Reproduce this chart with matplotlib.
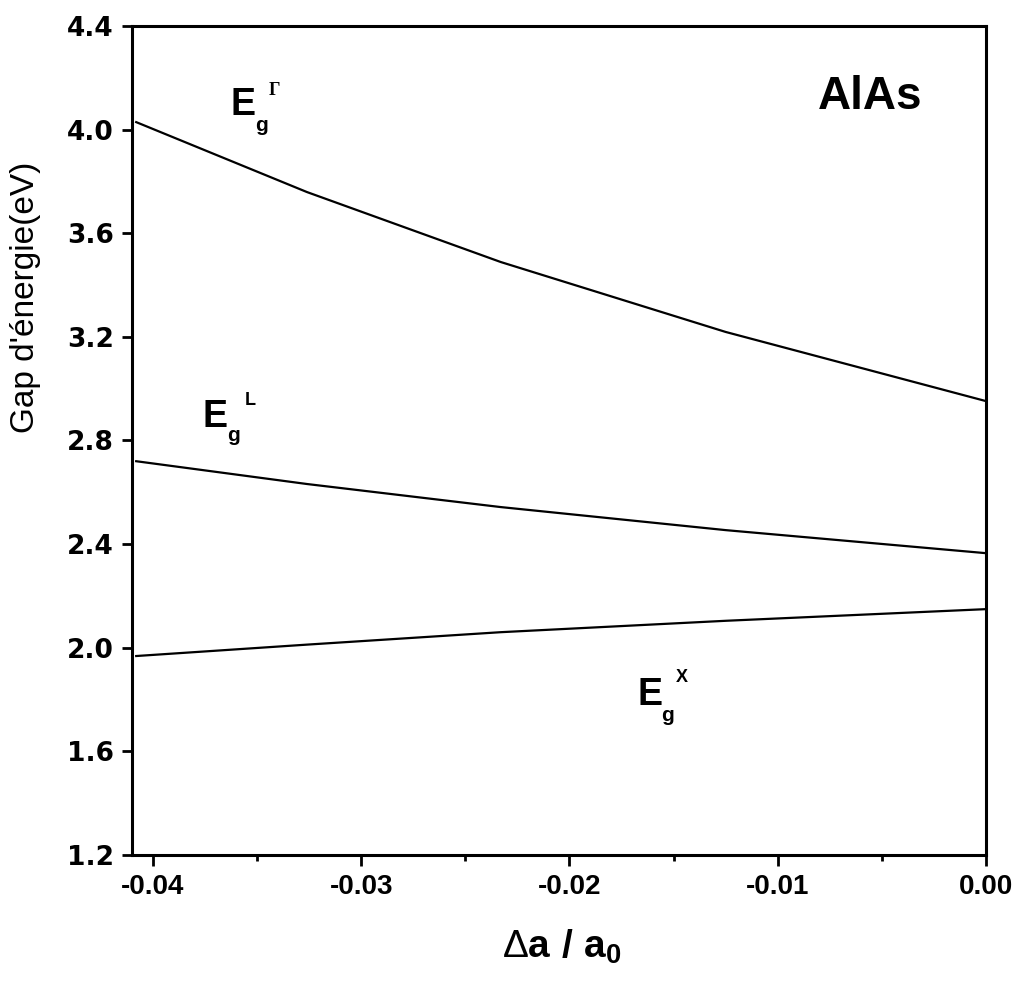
import matplotlib
matplotlib.use("Agg")
import matplotlib.pyplot as plt
from matplotlib.ticker import MultipleLocator

plt.rcParams['font.family'] = ['Liberation Sans', 'DejaVu Sans']
plt.rcParams['mathtext.fontset'] = 'custom'
plt.rcParams['mathtext.rm'] = 'Liberation Sans'
plt.rcParams['mathtext.bf'] = 'Liberation Sans:bold'
plt.rcParams['mathtext.it'] = 'Liberation Sans:bold'

# Data (strain Δa/a0 vs gap energy, eV)
strain = [-0.0408, -0.0326, -0.0233, -0.0125, 0.0]
gap_gamma = [4.029, 3.759, 3.489, 3.219, 2.952]
gap_L = [2.720, 2.632, 2.543, 2.454, 2.365]
gap_X = [1.968, 2.012, 2.060, 2.104, 2.149]

x_ticks = [-0.04, -0.03, -0.02, -0.01, 0.00]
x_ticklabels = ["-0.04", "-0.03", "-0.02", "-0.01", "0.00"]
y_ticks = [1.2, 1.6, 2.0, 2.4, 2.8, 3.2, 3.6, 4.0, 4.4]
y_ticklabels = ["1.2", "1.6", "2.0", "2.4", "2.8", "3.2", "3.6", "4.0", "4.4"]

fig = plt.figure(figsize=(10.18, 9.93), dpi=100)
ax = fig.add_axes([0.1297, 0.1390, 0.8389, 0.8348])

for y in (gap_gamma, gap_L, gap_X):
    ax.plot(strain, y, color='black', lw=1.6)

ax.set_xlim(-0.041, 0.0)
ax.set_ylim(1.2, 4.4)
ax.set_xticks(x_ticks)
ax.set_xticklabels(x_ticklabels, fontsize=20, fontweight='bold')
ax.set_yticks(y_ticks)
ax.set_yticklabels(y_ticklabels, fontsize=19, fontweight='bold', family='DejaVu Sans')
ax.xaxis.set_minor_locator(MultipleLocator(0.005))

for s in ax.spines.values():
    s.set_linewidth(2.2)
ax.tick_params(axis='x', which='major', direction='out', length=8, width=2, pad=6)
ax.tick_params(axis='x', which='minor', direction='out', length=4, width=2)
ax.tick_params(axis='y', which='major', direction='out', length=7, width=2, pad=6)
ax.tick_params(top=False, right=False)

ax.set_ylabel("Gap d'énergie(eV)", fontsize=24)
ax.yaxis.set_label_coords(-0.107, 0.673)
ax.set_xlabel(r"$\Delta\mathbf{a\ /\ a_0}$", fontsize=28)
ax.xaxis.set_label_coords(0.503, -0.088)

def px2data(px, py):
    return (px - 986) / 20830.0, 4.4 - (py - 26) / 259.2

def elabel(ex, ey, gx, gy, sx, sy, sup, supfam=None):
    x, y = px2data(ex, ey)
    ax.text(x, y, "E", fontsize=27, fontweight='bold', ha='left', va='baseline')
    x, y = px2data(gx, gy)
    ax.text(x, y, "g", fontsize=15, fontweight='bold', ha='left', va='baseline')
    x, y = px2data(sx, sy)
    kw = dict(fontsize=13, fontweight='bold', ha='left', va='baseline')
    if supfam:
        kw['family'] = supfam
    ax.text(x, y, sup, **kw)

elabel(230, 115, 255, 131, 269, 95, "Γ", ['Liberation Serif'])
elabel(202, 427, 227, 441, 245, 405, "L")
elabel(637, 705, 661, 721, 676, 682, "X")

x, y = px2data(818, 109)
ax.text(x, y, "AlAs", fontsize=33, fontweight='bold', ha='left', va='baseline')

fig.savefig("out.png", dpi=100)
